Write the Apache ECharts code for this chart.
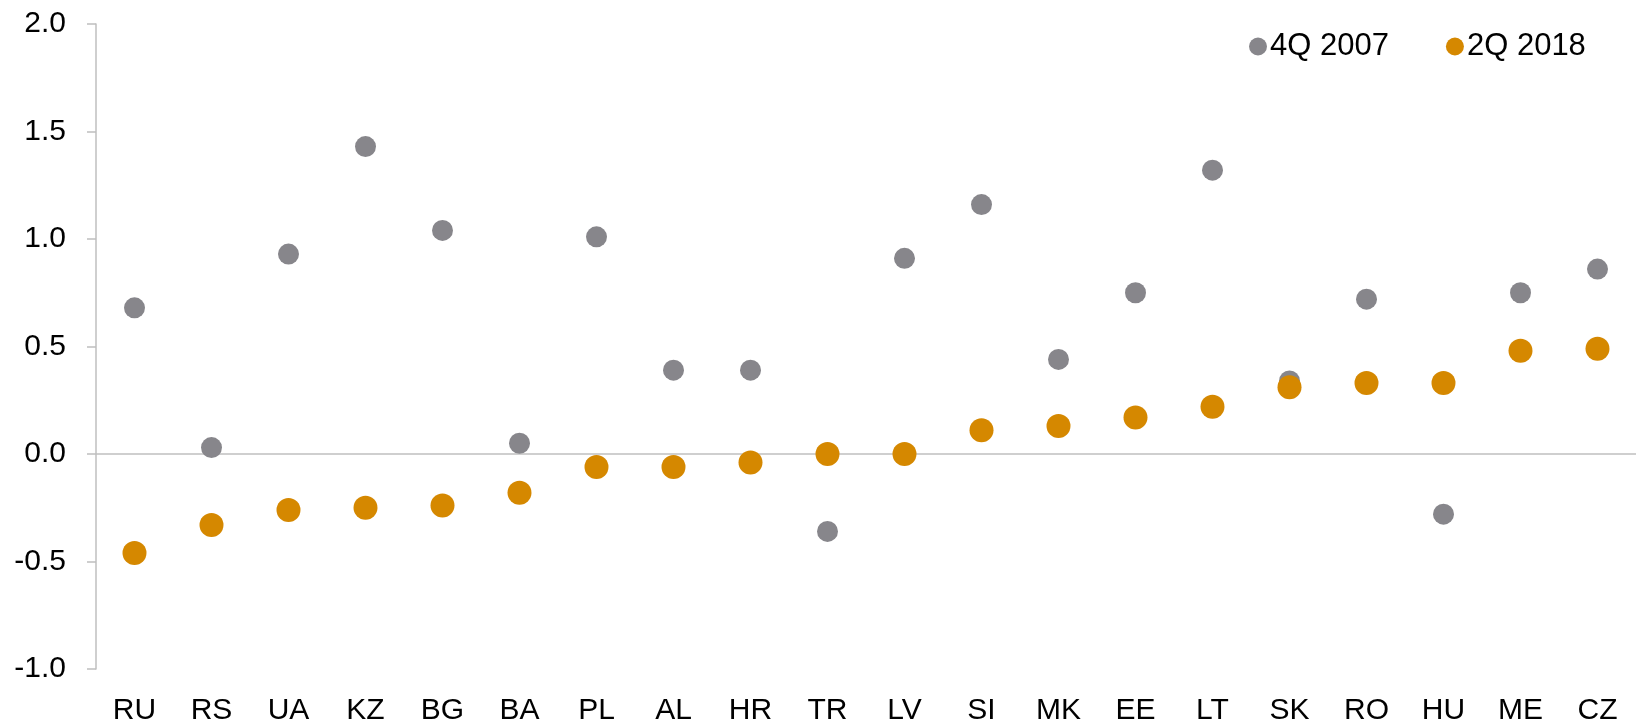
<!DOCTYPE html>
<html>
<head>
<meta charset="utf-8">
<script src="https://cdn.jsdelivr.net/npm/echarts@6/dist/echarts.min.js"></script>
<style>
  html, body { margin: 0; padding: 0; background: #ffffff; }
  #chart { width: 1636px; height: 722px; }
</style>
</head>
<body>
<div id="chart"></div>
<script>
// Countries along the horizontal axis
const countries = ['RU', 'RS', 'UA', 'KZ', 'BG', 'BA', 'PL', 'AL', 'HR', 'TR',
                   'LV', 'SI', 'MK', 'EE', 'LT', 'SK', 'RO', 'HU', 'ME', 'CZ'];

// Values for each period
const q4_2007 = [0.68, 0.03, 0.93, 1.43, 1.04, 0.05, 1.01, 0.39, 0.39, -0.36,
                 0.91, 1.16, 0.44, 0.75, 1.32, 0.34, 0.72, -0.28, 0.75, 0.86];
const q2_2018 = [-0.46, -0.33, -0.26, -0.25, -0.24, -0.18, -0.06, -0.06, -0.04, 0.00,
                 0.00, 0.11, 0.13, 0.17, 0.22, 0.31, 0.33, 0.33, 0.48, 0.49];

const seriesNames = ['4Q 2007', '2Q 2018'];
const FONT = '"Liberation Sans", Arial, sans-serif';
const GREY = '#87868b';
const AMBER = '#d58800';

const chart = echarts.init(document.getElementById('chart'), null, { renderer: 'canvas' });

chart.setOption({
  animation: false,
  backgroundColor: '#ffffff',
  textStyle: { fontFamily: FONT },
  grid: { left: 96, right: 0, top: 24, bottom: 53, containLabel: false, outerBoundsMode: 'none' },
  legend: {
    data: seriesNames,
    left: 1244,
    top: 26,
    icon: 'circle',
    itemWidth: 18,
    itemHeight: 18,
    itemGap: 57,
    textStyle: { fontFamily: FONT, fontSize: 31, lineHeight: 31, color: '#000000', padding: [0, 0, 0, -2] }
  },
  xAxis: {
    type: 'category',
    data: countries,
    position: 'bottom',
    axisLine: { show: false },
    axisTick: { show: false },
    splitLine: { show: false },
    axisLabel: { fontFamily: FONT, fontSize: 30, color: '#000000', margin: 27, interval: 0 }
  },
  yAxis: {
    type: 'value',
    min: -1,
    max: 2,
    interval: 0.5,
    axisLine: { show: true, lineStyle: { color: '#bfbfbf', width: 1.5 } },
    axisTick: { show: true, inside: false, length: 9, lineStyle: { color: '#bfbfbf', width: 1.5 } },
    splitLine: { show: false },
    axisLabel: {
      fontFamily: FONT, fontSize: 30, color: '#000000', margin: 30,
      padding: [4, 0, 0, 0],
      formatter: v => v.toFixed(1)
    }
  },
  series: [
    {
      name: seriesNames[0],
      type: 'scatter',
      data: q4_2007,
      symbol: 'circle',
      symbolSize: 21,
      itemStyle: { color: GREY, opacity: 1 },
      z: 2,
      markLine: {
        silent: true,
        symbol: ['none', 'none'],
        label: { show: false },
        lineStyle: { color: '#bfbfbf', width: 1.5, type: 'solid' },
        data: [{ yAxis: 0 }],
        z: 1
      }
    },
    {
      name: seriesNames[1],
      type: 'scatter',
      data: q2_2018,
      symbol: 'circle',
      symbolSize: 24,
      itemStyle: { color: AMBER, opacity: 1 },
      z: 3
    }
  ]
});
</script>
</body>
</html>
